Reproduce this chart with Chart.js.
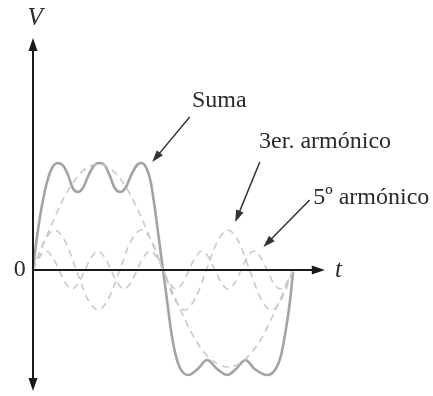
<!DOCTYPE html>
<html>
<head>
<meta charset="utf-8">
<script src="https://cdn.jsdelivr.net/npm/chart.js@4/dist/chart.umd.min.js"></script>
<style>
  html, body { margin: 0; padding: 0; background: #fff; }
  #wrap { width: 433px; height: 396px; }
</style>
</head>
<body>
<div id="wrap"><canvas id="canvas"></canvas></div>
<script>
// t in degrees of the fundamental period, V in arbitrary units
const fundT = [0, 22.5, 45, 67.5, 90, 112.5, 135, 157.5, 180, 202.5, 225, 247.5, 270, 292.5, 315, 337.5, 360];
const fundV = [0, 0.40, 0.75, 0.98, 1.06, 0.98, 0.75, 0.40, 0, -0.37, -0.70, -0.90, -0.97, -0.90, -0.70, -0.37, 0];

const h3T = [0, 15, 30, 45, 60, 75, 90, 105, 120, 135, 150, 165, 180, 195, 210, 225, 240, 255, 270, 285, 300, 315, 330, 345, 360];
const h3V = [0, 0.28, 0.40, 0.28, 0, -0.28, -0.40, -0.28, 0, 0.28, 0.40, 0.28, 0, -0.28, -0.40, -0.28, 0, 0.28, 0.40, 0.28, 0, -0.28, -0.40, -0.28, 0];

const h5T = [0, 9, 18, 27, 36, 45, 54, 63, 72, 81, 90, 99, 108, 117, 126, 135, 144, 153, 162, 171, 180,
  189, 198, 207, 216, 225, 234, 243, 252, 261, 270, 279, 288, 297, 306, 315, 324, 333, 342, 351, 360];
const h5V = [0, 0.13, 0.19, 0.13, 0, -0.13, -0.19, -0.13, 0, 0.13, 0.19, 0.13, 0, -0.13, -0.19, -0.13, 0, 0.13, 0.19, 0.13, 0,
  -0.13, -0.19, -0.13, 0, 0.13, 0.19, 0.13, 0, -0.13, -0.19, -0.13, 0, 0.13, 0.19, 0.13, 0, -0.13, -0.19, -0.13, 0];

const sumT = [0, 4, 12.5, 21, 28, 35, 42, 48.5, 55, 62, 69, 77, 85, 92, 99, 106, 113, 121, 128, 136, 144, 150, 157, 163, 169, 174.5, 180,
  185.5, 191, 196.5, 203.5, 215, 228, 241, 255, 269, 281, 294, 307, 324, 335, 343.5, 350, 356, 360];
const sumV = [0, 0.25, 0.65, 0.92, 1.04, 1.07, 1.04, 0.95, 0.82, 0.78, 0.82, 0.95, 1.05, 1.07, 1.05, 0.95, 0.82, 0.78, 0.82, 0.95, 1.05, 1.07, 1.02, 0.88, 0.60, 0.30, 0,
  -0.30, -0.60, -0.82, -0.98, -1.05, -0.99, -0.90, -0.99, -1.05, -0.99, -0.90, -0.99, -1.05, -1.00, -0.85, -0.60, -0.30, -0.02];

// annotation labels: text, anchor t, anchor V
const labelText = ["Suma", "3er. armónico", "5º armónico"];
const labelT = [220, 313, 388];
const labelV = [1.63, 1.22, 0.66];
// pointer arrows: from (t, V) to tip (t, V)
const arrowFromT = [217, 314, 383];
const arrowFromV = [1.53, 1.08, 0.70];
const arrowToT = [165, 280, 319];
const arrowToV = [1.08, 0.48, 0.23];

const pts = (ts, vs) => ts.map((t, i) => ({ x: t, y: vs[i] }));

const dashed = {
  borderColor: "#c9c9c9",
  borderWidth: 1.6,
  borderDash: [7, 5],
  pointRadius: 0,
  cubicInterpolationMode: "monotone",
  fill: false,
};

function arrowHead(ctx, x1, y1, x2, y2, len, wid) {
  const a = Math.atan2(y2 - y1, x2 - x1);
  ctx.beginPath();
  ctx.moveTo(x2, y2);
  ctx.lineTo(x2 - len * Math.cos(a) + wid * Math.sin(a), y2 - len * Math.sin(a) - wid * Math.cos(a));
  ctx.lineTo(x2 - len * Math.cos(a) - wid * Math.sin(a), y2 - len * Math.sin(a) + wid * Math.cos(a));
  ctx.closePath();
  ctx.fill();
}

const decor = {
  id: "decor",
  afterDatasetsDraw(chart) {
    const { ctx } = chart;
    const xs = chart.scales.x, ys = chart.scales.y;
    const X = v => xs.getPixelForValue(v), Y = v => ys.getPixelForValue(v);
    ctx.save();
    // axes
    ctx.strokeStyle = "#1a1a1a";
    ctx.fillStyle = "#1a1a1a";
    ctx.lineWidth = 2;
    ctx.beginPath();
    ctx.moveTo(X(0), Y(0));
    ctx.lineTo(X(400), Y(0));
    ctx.moveTo(X(0), Y(2.26));
    ctx.lineTo(X(0), Y(-1.15));
    ctx.stroke();
    arrowHead(ctx, X(0), Y(0), X(404), Y(0), 13, 4.5);
    arrowHead(ctx, X(0), Y(0), X(0), Y(2.32), 13, 4.5);
    arrowHead(ctx, X(0), Y(0), X(0), Y(-1.21), 13, 4.5);

    // axis labels
    ctx.fillStyle = "#2a2a2a";
    ctx.font = "italic 25px 'Liberation Serif'";
    ctx.textBaseline = "alphabetic";
    ctx.textAlign = "center";
    ctx.fillText("V", X(3), Y(2.45));
    ctx.textAlign = "left";
    ctx.textBaseline = "middle";
    ctx.fillText("t", X(418), Y(0));
    ctx.font = "24px 'Liberation Serif'";
    ctx.textAlign = "right";
    ctx.fillText("0", X(-10), Y(0));

    // annotations
    ctx.textAlign = "left";
    ctx.textBaseline = "alphabetic";
    labelText.forEach((s, i) => ctx.fillText(s, X(labelT[i]), Y(labelV[i])));
    ctx.strokeStyle = "#333";
    ctx.fillStyle = "#333";
    ctx.lineWidth = 1.5;
    arrowFromT.forEach((t, i) => {
      const x1 = X(t), y1 = Y(arrowFromV[i]), x2 = X(arrowToT[i]), y2 = Y(arrowToV[i]);
      const a = Math.atan2(y2 - y1, x2 - x1);
      ctx.beginPath();
      ctx.moveTo(x1, y1);
      ctx.lineTo(x2 - 8 * Math.cos(a), y2 - 8 * Math.sin(a));
      ctx.stroke();
      arrowHead(ctx, x1, y1, x2, y2, 12, 4);
    });
    ctx.restore();
  },
};

new Chart(document.getElementById("canvas").getContext("2d"), {
  type: "line",
  data: {
    datasets: [
      { label: "Fundamental", data: pts(fundT, fundV), ...dashed },
      { label: "3er. armónico", data: pts(h3T, h3V), ...dashed },
      { label: "5º armónico", data: pts(h5T, h5V), ...dashed },
      {
        label: "Suma",
        data: pts(sumT, sumV),
        borderColor: "#a3a3a3",
        borderWidth: 2.6,
        pointRadius: 0,
        cubicInterpolationMode: "monotone",
        fill: false,
      },
    ],
  },
  options: {
    responsive: true,
    maintainAspectRatio: false,
    animation: false,
    layout: { padding: 0 },
    plugins: { legend: { display: false }, tooltip: { enabled: false } },
    scales: {
      x: { type: "linear", min: -45.7, max: 553.8, display: false },
      y: { type: "linear", min: -1.26, max: 2.70, display: false },
    },
  },
  plugins: [decor],
});
</script>
</body>
</html>
